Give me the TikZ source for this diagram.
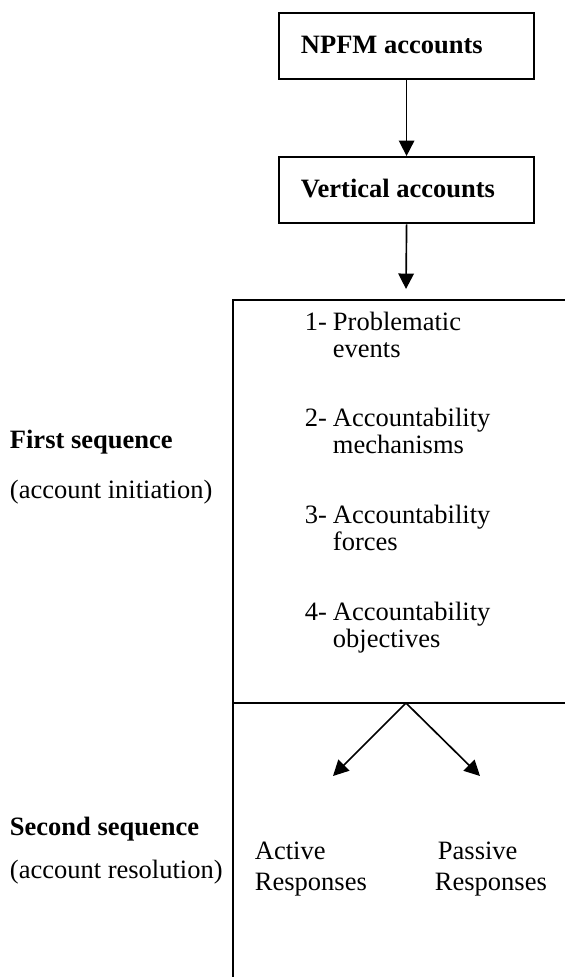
\documentclass[tikz,border=0pt]{standalone}
\usepackage{fontspec}
\setmainfont{Liberation Serif}
\usetikzlibrary{arrows.meta}
\begin{document}
\begin{tikzpicture}[x=0.4528pt,y=-0.4528pt,
  line width=0.85pt,
  txt/.style={anchor=base west, inner sep=0pt, font=\fontsize{12pt}{14pt}\selectfont},
  boldtxt/.style={txt, font=\fontsize{12pt}{14pt}\selectfont\bfseries},
  acctbox/.style={draw, line width=0.95pt, rectangle, anchor=north west,
    minimum width=115.5pt, minimum height=30pt, inner sep=0pt},
  flow/.style={line width=0.75pt, -{Triangle[length=7pt,width=7pt]}},
]
\useasboundingbox (0,0) rectangle (565,977);

% account boxes at the top
\node[acctbox] (npfm) at (278,12) {};
\node[boldtxt] (npfmtxt) at (300,53) {NPFM accounts};
\node[acctbox] (vert) at (278,156) {};
\node[boldtxt] (verttxt) at (300,197) {Vertical accounts};
\coordinate (entry) at (406,289);

\draw[flow] (npfm.south) -- (vert.north);
\draw[flow] (vert.south) -- (entry);

% open frame of the two sequences
\coordinate (ftl) at (233,300);
\coordinate (ftr) at (565,300);
\coordinate (fbl) at (233,977);
\coordinate (dl) at (233,703);
\coordinate (dr) at (565,703);
\coordinate (apex) at (406,703);
\draw (ftr) -- (ftl) -- (fbl);
\draw (dl) -- (dr);

% first sequence: the four elements
\node[txt] (n1) at (304,330) {1-};
\node[txt] (t1a) at (332,330) {Problematic};
\node[txt] (t1b) at (332,357) {events};
\node[txt] (n2) at (304,426) {2-};
\node[txt] (t2a) at (332,426) {Accountability};
\node[txt] (t2b) at (332,453) {mechanisms};
\node[txt] (n3) at (304,523) {3-};
\node[txt] (t3a) at (332,523) {Accountability};
\node[txt] (t3b) at (332,550) {forces};
\node[txt] (n4) at (304,620) {4-};
\node[txt] (t4a) at (332,620) {Accountability};
\node[txt] (t4b) at (332,647) {objectives};

% sequence labels on the left
\node[boldtxt] (first) at (9,448) {First sequence};
\node[txt] (firstsub) at (9,498) {(account initiation)};
\node[boldtxt] (second) at (9,835) {Second sequence};
\node[txt] (secondsub) at (9,878) {(account resolution)};

% second sequence: the two responses
\coordinate (tipa) at (333,776);
\coordinate (tipp) at (480,776);
\draw[flow] (apex) -- (tipa);
\draw[flow] (apex) -- (tipp);
\node[txt] (act1) at (254,859) {Active};
\node[txt] (act2) at (254,890) {Responses};
\node[txt] (pas1) at (437,859) {Passive};
\node[txt] (pas2) at (434,890) {Responses};
\end{tikzpicture}
\end{document}
